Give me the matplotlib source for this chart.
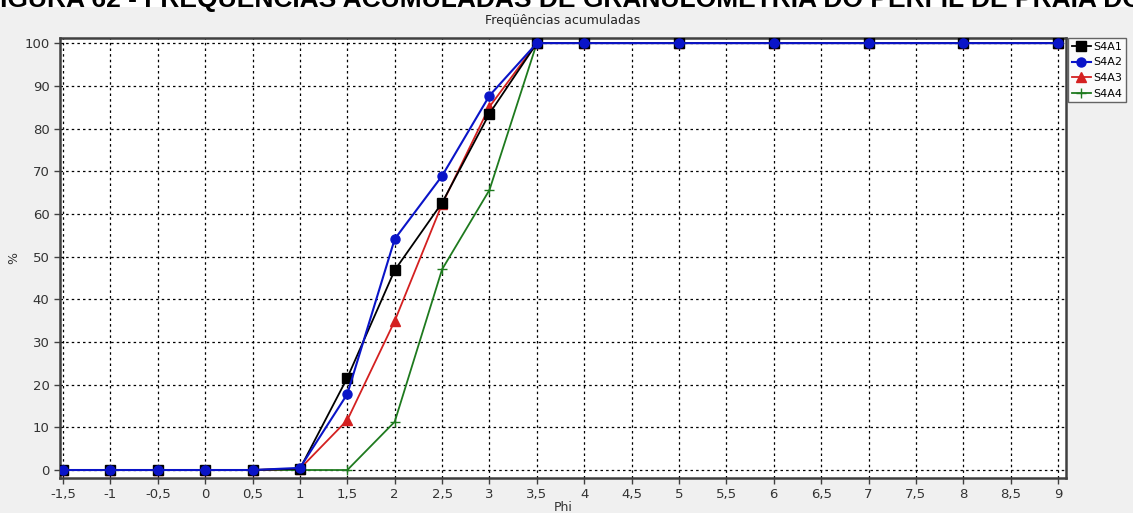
import matplotlib.pyplot as plt
from matplotlib.patches import Rectangle

# dados (Phi x % acumulada)
phi = [-1.5, -1, -0.5, 0, 0.5, 1, 1.5, 2, 2.5, 3, 3.5, 4, 5, 6, 7, 8, 9]
s4a1 = [0, 0, 0, 0, 0, 0.3, 21.6, 46.8, 62.6, 83.5, 100, 100, 100, 100, 100, 100, 100]
s4a2 = [0, 0, 0, 0, 0, 0.5, 17.8, 54.1, 68.9, 87.7, 100, 100, 100, 100, 100, 100, 100]
s4a3 = [0, 0, 0, 0, 0, 0.3, 11.7, 34.9, 62.3, 85.1, 100, 100, 100, 100, 100, 100, 100]
s4a4 = [0, 0, 0, 0, 0, 0, 0, 11.3, 47.0, 65.6, 100, 100, 100, 100, 100, 100, 100]

xticks = [-1.5 + 0.5 * i for i in range(22)]
yticks = list(range(0, 101, 10))

W, H = 1133, 513
fig = plt.figure(figsize=(W / 100, H / 100), dpi=100, facecolor='#f0f0f0')

# faixa branca no topo com a legenda da figura cortada
fig.patches.append(Rectangle((0, 1 - 7 / H), 1, 7 / H, transform=fig.transFigure,
                             facecolor='white', edgecolor='none', zorder=0))
fig.text(-0.014, 1 - 7 / H, 'FIGURA 62 - FREQUÊNCIAS ACUMULADAS DE GRANULOMETRIA DO PERFIL DE PRAIA DO',
         fontsize=19, fontweight='bold', family='Liberation Sans', va='baseline', ha='left')

ax = fig.add_axes([60 / W, 1 - 478 / H, (1066 - 60) / W, (478 - 38) / H])
ax.set_facecolor('white')

ax.plot(phi, s4a4, color='#1e7a1e', marker='+', markersize=7, lw=1.3, label='S4A4', zorder=3)
ax.plot(phi, s4a3, color='#d42020', marker='^', markersize=7, lw=1.3, label='S4A3', zorder=4)
ax.plot(phi, s4a1, color='black', marker='s', markersize=7.5, lw=1.3, label='S4A1', zorder=5)
ax.plot(phi, s4a2, color='#0a14c8', marker='o', markersize=6.5, lw=1.5, label='S4A2', zorder=6)

ax.set_xlim(-1.532, 9.084)
ax.set_ylim(-1.87, 101.2)
ax.set_xticks(xticks)
ax.set_xticklabels([('%g' % v).replace('.', ',') for v in xticks])
ax.set_yticks(yticks)
ax.grid(True, color='black', linestyle=(0, (2, 2.5)), linewidth=0.9)
ax.set_axisbelow(True)

for s in ax.spines.values():
    s.set_color('#404040')
    s.set_linewidth(1.8)
ax.tick_params(direction='out', length=4, width=1, colors='#404040', labelsize=9.5,
               labelcolor='#333333')

ax.set_title('Freqüências acumuladas', fontsize=9, color='#222222', pad=10)
ax.set_xlabel('Phi', fontsize=9, color='#333333', labelpad=0)
ax.set_ylabel('%', fontsize=9, color='#333333')
ax.yaxis.set_label_coords(-0.04, 0.5)

handles, labels = ax.get_legend_handles_labels()
order = [2, 3, 1, 0]
leg = ax.legend([handles[i] for i in order], [labels[i] for i in order],
                loc='upper left', bbox_to_anchor=(1.002, 1.0), fontsize=8,
                frameon=True, fancybox=False, handlelength=1.7, handletextpad=0.25,
                borderpad=0.35, labelspacing=0.5, borderaxespad=0)
leg.get_frame().set_edgecolor('#404040')
leg.get_frame().set_linewidth(1.0)

fig.savefig('out.png', dpi=100, facecolor=fig.get_facecolor())
